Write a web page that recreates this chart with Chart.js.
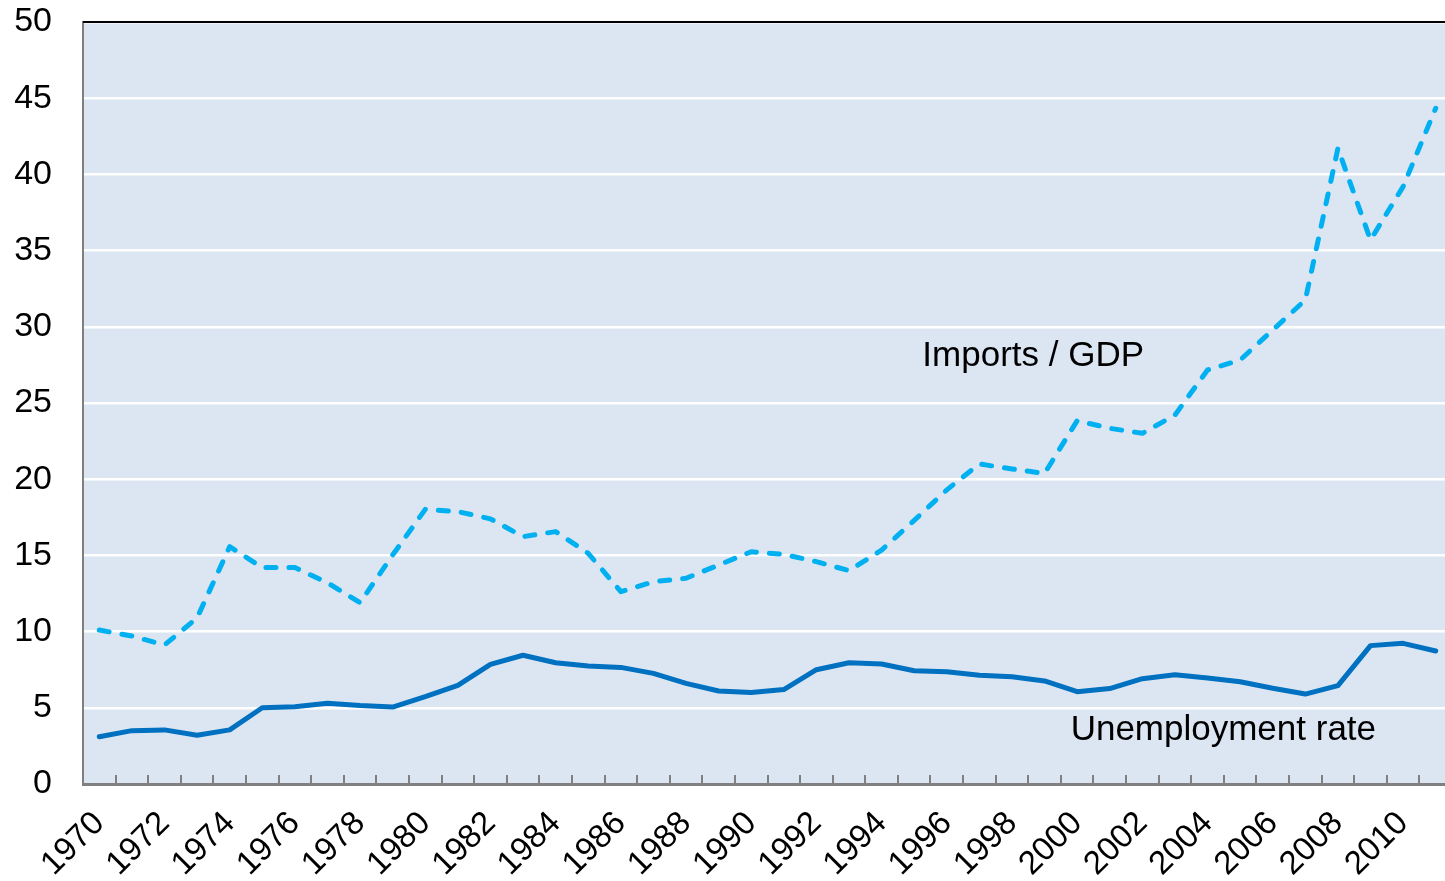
<!DOCTYPE html>
<html>
<head>
<meta charset="utf-8">
<script src="https://cdn.jsdelivr.net/npm/chart.js@4/dist/chart.umd.min.js"></script>
<style>
html, body { margin: 0; padding: 0; background: #ffffff; overflow: hidden; }
#wrap { position: relative; width: 1452px; height: 881px; }
</style>
</head>
<body>
<div id="wrap"><canvas id="c"></canvas></div>
<script>
const years = ['1970','1971','1972','1973','1974','1975','1976','1977','1978','1979',
  '1980','1981','1982','1983','1984','1985','1986','1987','1988','1989',
  '1990','1991','1992','1993','1994','1995','1996','1997','1998','1999',
  '2000','2001','2002','2003','2004','2005','2006','2007','2008','2009',
  '2010','2011'];

const unemploymentRate = [3.1,3.5,3.55,3.2,3.55,5.0,5.07,5.3,5.15,5.05,
  5.73,6.47,7.85,8.45,7.96,7.74,7.65,7.26,6.6,6.1,
  6.0,6.2,7.5,7.96,7.87,7.43,7.37,7.13,7.04,6.76,
  6.06,6.26,6.91,7.17,6.96,6.71,6.28,5.9,6.45,9.08,
  9.23,8.73];

const importsGdp = [10.1,9.71,9.12,10.9,15.57,14.2,14.2,13.2,11.9,15.03,
  18.02,17.87,17.4,16.23,16.56,15.14,12.62,13.27,13.5,14.37,
  15.24,15.07,14.59,14.0,15.35,17.3,19.3,21.0,20.67,20.38,
  23.84,23.34,23.01,24.21,27.17,27.82,29.79,31.76,41.71,35.7,
  39.2,44.34];

const yTicks = [0,5,10,15,20,25,30,35,40,45,50];

const seriesLabels = [
  { text: 'Imports / GDP', at: 25.25, value: 27.43 },
  { text: 'Unemployment rate', at: 29.8, value: 2.89 }
];

const FONT = "'Liberation Sans', Arial, sans-serif";

const decor = {
  id: 'decor',
  beforeDraw(chart) {
    const { ctx, chartArea: a } = chart;
    ctx.save();
    ctx.fillStyle = '#DCE6F2';
    ctx.fillRect(a.left, a.top, a.right - a.left, a.bottom - a.top);
    ctx.restore();
  },
  beforeDatasetsDraw(chart) {
    const { ctx, chartArea: a, scales } = chart;
    const xs = scales.x;
    ctx.save();
    ctx.strokeStyle = '#808080';
    ctx.lineWidth = 2;
    for (let i = 0; i < years.length; i++) {
      const x = Math.round((xs.getPixelForValue(i) + xs.getPixelForValue(i + 1)) / 2);
      ctx.beginPath();
      ctx.moveTo(x, a.bottom);
      ctx.lineTo(x, a.bottom - 9);
      ctx.stroke();
    }
    ctx.restore();
  },
  afterDatasetsDraw(chart) {
    const { ctx, chartArea: a, scales } = chart;
    ctx.save();
    ctx.strokeStyle = '#000000';
    ctx.lineWidth = 2;
    ctx.beginPath();
    ctx.moveTo(a.left, a.top);
    ctx.lineTo(a.right, a.top);
    ctx.stroke();
    ctx.fillStyle = '#000000';
    ctx.font = '35px ' + FONT;
    ctx.textAlign = 'left';
    ctx.textBaseline = 'alphabetic';
    seriesLabels.forEach(l => {
      ctx.fillText(l.text, scales.x.getPixelForValue(l.at), scales.y.getPixelForValue(l.value));
    });
    ctx.restore();
  }
};

new Chart(document.getElementById('c'), {
  type: 'line',
  data: {
    labels: years,
    datasets: [
      {
        label: 'Imports / GDP',
        data: importsGdp,
        borderColor: '#00B0F0',
        borderWidth: 5,
        borderDash: [10, 13],
        borderCapStyle: 'round',
        borderJoinStyle: 'round',
        pointRadius: 0,
        tension: 0,
        fill: false
      },
      {
        label: 'Unemployment rate',
        data: unemploymentRate,
        borderColor: '#0070C0',
        borderWidth: 5,
        borderCapStyle: 'round',
        borderJoinStyle: 'round',
        pointRadius: 0,
        tension: 0,
        fill: false
      }
    ]
  },
  options: {
    responsive: true,
    maintainAspectRatio: false,
    animation: false,
    layout: { padding: { top: 22, right: 0, left: 0, bottom: 0 } },
    plugins: {
      legend: { display: false },
      tooltip: { enabled: false }
    },
    scales: {
      x: {
        type: 'category',
        offset: true,
        grid: { display: false, drawTicks: false, offset: true },
        border: { display: true, color: '#808080', width: 3 },
        ticks: {
          autoSkip: false,
          maxRotation: 45,
          minRotation: 45,
          padding: 20,
          color: '#000000',
          font: { family: FONT, size: 33 },
          callback: function(v, i) { return (i % 2 === 0) ? years[i] : ''; }
        },
        afterFit(scale) { scale.height = 97; scale.paddingRight = 0; scale.paddingLeft = 0; }
      },
      y: {
        min: 0,
        max: 50,
        afterBuildTicks(scale) { scale.ticks = yTicks.map(v => ({ value: v })); },
        grid: { color: '#FFFFFF', lineWidth: 2.5, drawTicks: false },
        border: { display: true, color: '#808080', width: 2 },
        ticks: {
          padding: 31,
          color: '#000000',
          font: { family: FONT, size: 34 }
        },
        afterFit(scale) { scale.width = 83; scale.paddingTop = 0; scale.paddingBottom = 0; }
      }
    }
  },
  plugins: [decor]
});
</script>
</body>
</html>
